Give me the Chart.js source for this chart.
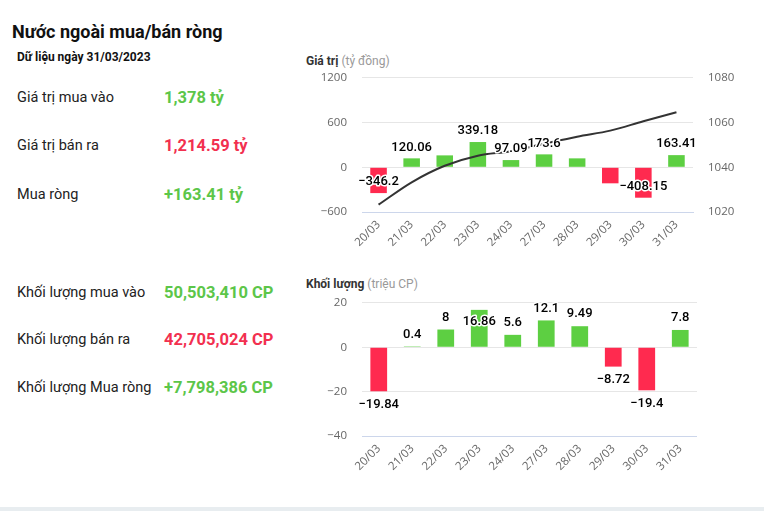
<!DOCTYPE html>
<html>
<head>
<meta charset="utf-8">
<script src="https://cdn.jsdelivr.net/npm/chart.js@4.4.1/dist/chart.umd.min.js"></script>
<style>
	html, body { margin: 0; padding: 0; background: #fff; }
	body { width: 764px; height: 511px; position: relative; overflow: hidden; font-family: Roboto, "Noto Sans", sans-serif; color: #222; }
	.abs { position: absolute; white-space: nowrap; }
	.title { left: 12px; top: 21px; font-size: 18px; font-weight: 700; color: #111; }
	.date { left: 17px; top: 50px; font-size: 12px; font-weight: 700; color: #111; }
	.row-label { left: 17px; font-size: 14.5px; color: #222; line-height: 20px; }
	.row-value { left: 164px; font-size: 16.5px; font-weight: 700; line-height: 20px; }
	.up { color: #5cc649; }
	.down { color: #f2304f; }
	.chart-title { left: 306px; font-size: 12px; font-weight: 700; color: #333; }
	.chart-title span { font-weight: 400; color: #999; }
	.box { position: absolute; }
	.footer { position: absolute; left: 0; right: 0; bottom: 0; height: 4px; background: #e8edf0; }
</style>
</head>
<body>
	<div class="abs title">Nước ngoài mua/bán ròng</div>
	<div class="abs date">Dữ liệu ngày 31/03/2023</div>

	<div class="abs row-label" style="top:88px">Giá trị mua vào</div>
	<div class="abs row-value up" style="top:88px">1,378 tỷ</div>
	<div class="abs row-label" style="top:136px">Giá trị bán ra</div>
	<div class="abs row-value down" style="top:136px">1,214.59 tỷ</div>
	<div class="abs row-label" style="top:185px">Mua ròng</div>
	<div class="abs row-value up" style="top:185px">+163.41 tỷ</div>

	<div class="abs row-label" style="top:283px">Khối lượng mua vào</div>
	<div class="abs row-value up" style="top:283px">50,503,410 CP</div>
	<div class="abs row-label" style="top:330px">Khối lượng bán ra</div>
	<div class="abs row-value down" style="top:330px">42,705,024 CP</div>
	<div class="abs row-label" style="top:378px">Khối lượng Mua ròng</div>
	<div class="abs row-value up" style="top:378px">+7,798,386 CP</div>

	<div class="abs chart-title" style="top:54px">Giá trị <span>(tỷ đồng)</span></div>
	<div class="box" style="left:300px; top:56px; width:445px; height:198px"><canvas id="valueChart"></canvas></div>

	<div class="abs chart-title" style="top:277px">Khối lượng <span>(triệu CP)</span></div>
	<div class="box" style="left:300px; top:281px; width:397px; height:197px"><canvas id="volumeChart"></canvas></div>

	<div class="footer"></div>

<script>
const days = ['20/03', '21/03', '22/03', '23/03', '24/03', '27/03', '28/03', '29/03', '30/03', '31/03'];

// giá trị mua/bán ròng (tỷ đồng)
const netValue = [-346.2, 120.06, 160, 339.18, 97.09, 173.6, 120, -215, -408.15, 163.41];
// nhãn bị ẩn do chồng lên nhau
const netValueShown = [true, true, false, true, true, true, false, false, true, true];
// đường chỉ số (trục phải)
const indexLine = [1023.3, 1033.3, 1040.7, 1045.2, 1047.2, 1050.5, 1053.7, 1056.4, 1060.6, 1064.6];

// khối lượng mua/bán ròng (triệu CP)
const netVolume = [-19.84, 0.4, 8, 16.86, 5.6, 12.1, 9.49, -8.72, -19.4, 7.8];

const valueTicks = [-600, 0, 600, 1200];
const indexTicks = [1020, 1040, 1060, 1080];
const volumeTicks = [-40, -20, 0, 20];

const GREEN = '#5dcf42', RED = '#ff2a4f';
const TICK_FONT = {family: '"Open Sans", "DejaVu Sans", sans-serif', size: 11.5};
const minus = v => String(v).replace('-', '\u2212');

const barLabels = {
	id: 'barLabels',
	afterDatasetsDraw(chart, args, opts) {
		const
			ctx = chart.ctx,
			meta = chart.getDatasetMeta(0),
			data = chart.data.datasets[0].data,
			area = chart.chartArea;

		ctx.save();
		ctx.font = '500 13px Roboto, "Noto Sans", sans-serif';
		ctx.textAlign = 'center';
		ctx.textBaseline = 'middle';
		ctx.lineJoin = 'round';
		meta.data.forEach((bar, i) => {
			if (opts.shown && !opts.shown[i]) return;
			const v = data[i];
			let y;
			if (opts.mode === 'top') {
				y = bar.y - 11;
			} else {
				y = v >= 0 ? bar.y - 12 : bar.y + 13;
				// không vừa phía trên thì đưa vào trong cột
				if (y - 4 < area.top) y = bar.y + 12;
			}
			const txt = minus(v);
			ctx.strokeStyle = '#fff';
			ctx.lineWidth = 3;
			ctx.strokeText(txt, bar.x, y);
			ctx.fillStyle = '#000';
			ctx.fillText(txt, bar.x, y);
		});
		ctx.restore();
	}
};

function fixWidth(w) { return scale => { scale.width = w; }; }
function fixHeight(h) { return scale => { scale.height = h; }; }

function xAxis() {
	return {
		grid: {display: false, drawTicks: false},
		border: {color: '#ccd6eb'},
		ticks: {color: '#666', font: TICK_FONT, minRotation: 45, maxRotation: 45, padding: 6},
		afterFit: fixHeight(42)
	};
}

function yAxis(values, pos, width) {
	return {
		position: pos,
		min: values[0],
		max: values[values.length - 1],
		afterBuildTicks: scale => { scale.ticks = values.map(v => ({value: v})); },
		grid: {color: '#e6e6e6', drawTicks: false, drawOnChartArea: pos === 'left'},
		border: {display: false},
		ticks: {color: '#666', font: TICK_FONT, padding: 15, callback: minus},
		afterFit: fixWidth(width)
	};
}

document.addEventListener('DOMContentLoaded', () => {
	new Chart(document.getElementById('valueChart'), {
		type: 'bar',
		data: {
			labels: days,
			datasets: [{
				type: 'bar',
				data: netValue,
				backgroundColor: netValue.map(v => v >= 0 ? GREEN : RED),
				barPercentage: 0.5,
				categoryPercentage: 1,
				yAxisID: 'y',
				order: 2
			}, {
				type: 'line',
				data: indexLine,
				borderColor: '#333',
				borderWidth: 2,
				pointRadius: 0,
				cubicInterpolationMode: 'monotone',
				yAxisID: 'y1',
				order: 1
			}]
		},
		options: {
			responsive: true,
			maintainAspectRatio: false,
			animation: false,
			layout: {padding: {top: 8, bottom: 0, left: 0, right: 0}},
			plugins: {legend: {display: false}, tooltip: {enabled: false}, barLabels: {mode: 'top', shown: netValueShown}},
			scales: {
				x: xAxis(),
				y: yAxis(valueTicks, 'left', 62),
				y1: yAxis(indexTicks, 'right', 52)
			}
		},
		plugins: [barLabels]
	});

	new Chart(document.getElementById('volumeChart'), {
		type: 'bar',
		data: {
			labels: days,
			datasets: [{
				data: netVolume,
				backgroundColor: netVolume.map(v => v >= 0 ? GREEN : RED),
				barPercentage: 0.5,
				categoryPercentage: 1
			}]
		},
		options: {
			responsive: true,
			maintainAspectRatio: false,
			animation: false,
			layout: {padding: {top: 8, bottom: 0, left: 0, right: 0}},
			plugins: {legend: {display: false}, tooltip: {enabled: false}, barLabels: {mode: 'out'}},
			scales: {
				x: xAxis(),
				y: yAxis(volumeTicks, 'left', 62)
			}
		},
		plugins: [barLabels]
	});
});
</script>
</body>
</html>
